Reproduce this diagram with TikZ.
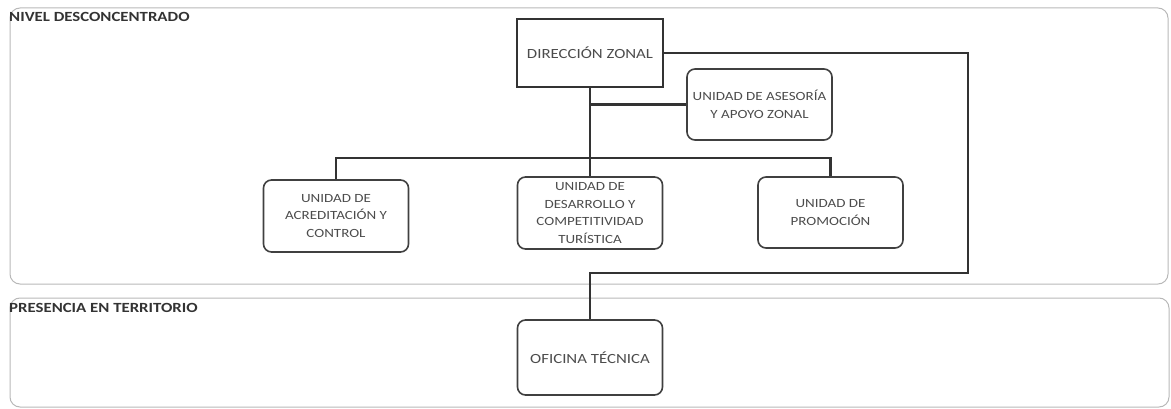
\documentclass[tikz,border=0pt]{standalone}
\usepackage{fontspec}
\setmainfont{Carlito}[FakeStretch=1.2]
\begin{document}
\begin{tikzpicture}[x=1pt,y=-1pt,
 panel/.style={draw=black!28, line width=1pt, rounded corners=10pt},
 unit/.style={draw=black!75, line width=1.6pt, rounded corners=8pt, align=center,
   font=\fontsize{12.5}{17.5}\selectfont, text=black!70, minimum width=145pt,
   minimum height=71pt, inner sep=0pt},
 head/.style={draw=black!80, line width=2.8pt, minimum width=146pt, minimum height=68pt,
   font=\fontsize{14}{16}\selectfont, text=black!70, inner sep=0pt},
 conn/.style={draw=black!80, line width=2.2pt},
 lbl/.style={font=\bfseries\fontsize{14}{16}\selectfont, text=black!80, anchor=west, inner sep=0pt}]
\useasboundingbox (0,0) rectangle (1171,409);
\draw[panel] (10,8) rectangle (1168,284);
\draw[panel] (10,298) rectangle (1169,407);
\node[lbl] (l1) at (9,17) {NIVEL DESCONCENTRADO};
\node[lbl] (l2) at (9,308) {PRESENCIA EN TERRITORIO};
\node[head] (dz) at (590,53) {DIRECCIÓN ZONAL};
\node[unit] (as) at (759.5,104.5) {UNIDAD DE ASESORÍA\\Y APOYO ZONAL};
\node[unit, minimum height=72pt] (ac) at (336,216) {UNIDAD DE\\ACREDITACIÓN Y\\CONTROL};
\node[unit, minimum height=72pt] (de) at (590,213) {UNIDAD DE\\DESARROLLO Y\\COMPETITIVIDAD\\TURÍSTICA};
\node[unit] (pr) at (830.5,212.5) {UNIDAD DE\\PROMOCIÓN};
\node[unit, minimum height=75pt, font=\fontsize{14}{16}\selectfont] (of) at (590,357.5) {OFICINA TÉCNICA};
\coordinate (bus) at (590,158);
\coordinate (turn) at (968,273);
\draw[conn] (dz.south) -- (de.north);
\draw[conn] (dz.south |- as.west) -- (as.west);
\draw[conn] (ac.north) -- (ac.north |- bus) -| (pr.north);
\draw[conn] (dz.east) -| (turn) -| (of.north);
\end{tikzpicture}
\end{document}
